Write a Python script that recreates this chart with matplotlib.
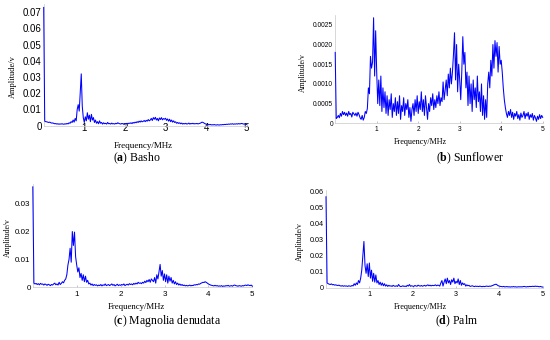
import matplotlib
matplotlib.use("Agg")
import matplotlib.pyplot as plt
import numpy as np

plt.rcParams['mathtext.fontset'] = 'custom'
plt.rcParams['mathtext.rm'] = 'Liberation Serif'
plt.rcParams['mathtext.bf'] = 'Liberation Serif:bold'

# frequency grid, 0..5 MHz in 0.025 MHz steps (201 samples)
freq = np.linspace(0, 5, 201)

# amplitudes, one row = 0.25 MHz
basho = np.array([
    730, 28, 25, 24, 22, 20, 22, 18, 16, 17,
    14, 12, 13, 10, 12, 9, 11, 10, 12, 10,
    9, 12, 10, 14, 11, 18, 15, 25, 20, 35,
    22, 45, 30, 100, 130, 90, 200, 320, 120, 50,
    20, 55, 30, 80, 40, 65, 25, 70, 35, 50,
    20, 35, 15, 25, 12, 30, 15, 20, 10, 18,
    12, 15, 10, 20, 12, 14, 10, 16, 11, 13,
    10, 15, 12, 18, 14, 12, 10, 14, 12, 11,
    13, 10, 15, 12, 16, 14, 18, 13, 20, 16,
    22, 18, 25, 20, 28, 22, 30, 24, 27, 32,
    25, 33, 28, 38, 30, 35, 45, 32, 50, 40,
    52, 35, 45, 30, 48, 38, 50, 36, 44, 40,
    46, 33, 42, 28, 40, 25, 35, 22, 30, 20,
    24, 15, 20, 14, 18, 12, 16, 10, 14, 11,
    15, 10, 12, 16, 10, 14, 12, 15, 11, 13,
    12, 14, 11, 13, 15, 18, 22, 20, 16, 12,
    10, 8, 7, 6, 8, 5, 6, 5, 7, 5,
    4, 6, 5, 4, 6, 5, 7, 6, 8, 7,
    9, 8, 10, 9, 11, 10, 12, 9, 11, 10,
    12, 10, 13, 11, 12, 14, 12, 10, 11, 9,
    8]) * 1e-4

sunflower = np.array([
    180, 12, 15, 20, 14, 25, 18, 30, 22, 28,
    20, 26, 18, 30, 22, 25, 16, 28, 24, 20,
    26, 18, 28, 22, 14, 10, 20, 8, 15, 30,
    25, 38, 90, 75, 170, 140, 155, 268, 120, 235,
    130, 50, 110, 45, 120, 30, 90, 40, 80, 25,
    70, 20, 60, 35, 75, 15, 50, 30, 65, 20,
    55, 25, 70, 10, 45, 30, 65, 20, 50, 35,
    60, 15, 40, 5, 35, 50, 20, 60, 30, 70,
    25, 55, 35, 80, 30, 60, 20, 70, 40, 10,
    50, 30, 65, 45, 75, 35, 60, 40, 70, 50,
    80, 45, 65, 55, 105, 60, 85, 110, 70, 125,
    90, 140, 100, 130, 175, 230, 110, 200, 80, 150,
    110, 60, 130, 220, 150, 180, 90, 130, 45, 120,
    50, 100, 30, 110, 60, 90, 40, 120, 55, 80,
    30, 100, 20, 70, 10, 60, 15, 100, 130, 90,
    160, 120, 200, 140, 210, 170, 205, 130, 195, 150,
    160, 130, 90, 60, 40, 25, 15, 30, 20, 35,
    15, 28, 10, 25, 18, 30, 12, 22, 8, 26,
    15, 20, 30, 12, 25, 18, 28, 10, 22, 15,
    25, 8, 20, 14, 5, 18, 10, 22, 12, 20,
    15]) * 1e-5

magnolia = np.array([
    360, 15, 12, 14, 10, 13, 9, 14, 11, 12,
    8, 12, 10, 7, 11, 9, 6, 10, 8, 12,
    15, 9, 12, 8, 18, 10, 14, 20, 16, 25,
    30, 45, 80, 100, 140, 90, 200, 150, 198, 110,
    80, 55, 70, 35, 50, 25, 45, 20, 40, 18,
    25, 12, 15, 8, 12, 6, 10, 7, 9, 5,
    8, 6, 10, 5, 9, 7, 12, 6, 8, 10,
    6, 9, 12, 7, 10, 5, 8, 11, 6, 9,
    7, 10, 8, 12, 6, 9, 11, 8, 13, 10,
    12, 9, 14, 11, 15, 12, 18, 14, 16, 13,
    18, 15, 22, 17, 25, 20, 28, 18, 30, 25,
    20, 35, 15, 45, 30, 55, 82, 40, 60, 25,
    48, 20, 45, 15, 40, 22, 35, 15, 25, 12,
    20, 10, 15, 8, 12, 7, 10, 6, 8, 5,
    7, 5, 6, 8, 5, 7, 6, 9, 8, 10,
    9, 12, 11, 14, 16, 18, 17, 20, 18, 15,
    12, 10, 8, 7, 6, 5, 7, 5, 6, 4,
    5, 4, 6, 3, 5, 4, 6, 5, 7, 4,
    5, 6, 4, 7, 8, 6, 5, 4, 6, 5,
    4, 6, 5, 7, 8, 6, 9, 7, 6, 8,
    4]) * 1e-4

palm = np.array([
    570, 30, 25, 22, 20, 24, 18, 20, 16, 18,
    15, 14, 16, 12, 10, 13, 9, 12, 10, 11,
    8, 12, 10, 9, 14, 11, 25, 15, 30, 20,
    45, 30, 60, 110, 200, 290, 140, 90, 150, 70,
    155, 60, 110, 40, 90, 35, 80, 30, 45, 20,
    35, 15, 30, 12, 25, 10, 18, 8, 15, 10,
    12, 8, 15, 10, 9, 12, 8, 20, 10, 7,
    9, 12, 8, 10, 7, 15, 10, 20, 9, 12,
    10, 8, 14, 11, 9, 16, 12, 10, 14, 9,
    12, 15, 10, 14, 18, 12, 16, 11, 15, 13,
    14, 18, 12, 16, 15, 10, 30, 45, 10, 35,
    55, 25, 60, 30, 45, 20, 50, 35, 60, 25,
    40, 30, 55, 20, 45, 15, 30, 20, 25, 10,
    18, 12, 15, 8, 10, 12, 9, 7, 10, 8,
    9, 7, 10, 8, 6, 9, 7, 8, 10, 9,
    8, 10, 9, 12, 14, 18, 20, 22, 17, 12,
    10, 8, 7, 6, 8, 5, 6, 7, 5, 6,
    4, 6, 5, 7, 5, 6, 4, 5, 6, 5,
    6, 5, 7, 8, 6, 5, 7, 6, 8, 7,
    8, 9, 7, 10, 8, 9, 7, 6, 8, 5,
    4]) * 1e-4

xticks = [1, 2, 3, 4, 5]
yticks_a = [0, 0.01, 0.02, 0.03, 0.04, 0.05, 0.06, 0.07]
ylabels_a = ['0', '0.01', '0.02', '0.03', '0.04', '0.05', '0.06', '0.07']
yticks_b = [0, 0.0005, 0.0010, 0.0015, 0.0020, 0.0025]
ylabels_b = ['0', '0.0005', '0.0010', '0.0015', '0.0020', '0.0025']
yticks_c = [0, 0.01, 0.02, 0.03]
ylabels_c = ['0', '0.01', '0.02', '0.03']
yticks_d = [0, 0.01, 0.02, 0.03, 0.04, 0.05, 0.06]
ylabels_d = ['0', '0.01', '0.02', '0.03', '0.04', '0.05', '0.06']

W, H = 550, 340
fig = plt.figure(figsize=(5.5, 3.4), dpi=100)


def rect(left, right, top, bottom):
    # pixel box -> figure fraction
    return [left / W, 1 - bottom / H, (right - left) / W, (bottom - top) / H]


def panel(box, y, ymax, yt, yl, tsize, xpad):
    ax = fig.add_axes(rect(*box))
    ax.plot(freq, y, color='#0000ff', lw=0.75, zorder=3, clip_on=False)
    ax.set_xlim(0, 5)
    ax.set_ylim(0, ymax)
    ax.set_xticks(xticks)
    ax.set_xticklabels([str(t) for t in xticks])
    ax.set_yticks(yt)
    ax.set_yticklabels(yl)
    for s in ['top', 'right']:
        ax.spines[s].set_visible(False)
    for s in ['left', 'bottom']:
        ax.spines[s].set_color('#c8c8c8')
        ax.spines[s].set_linewidth(0.5)
    ax.tick_params(axis='x', direction='in', length=1.5, width=0.4, color='#999999',
                   pad=xpad, labelsize=tsize)
    ax.tick_params(axis='y', length=0, pad=1.5, labelsize=tsize)
    for lab in ax.get_xticklabels() + ax.get_yticklabels():
        lab.set_family('Liberation Sans')
    return ax


panel((43.7, 246.7, 4.2, 125.7), basho, 0.075, yticks_a, ylabels_a, 7, -2.3)
panel((335.2, 542.7, 15, 123.3), sunflower, 0.00275, yticks_b, ylabels_b, 4.8, 1.8)
panel((32.8, 252.3, 184.1, 287.3), magnolia, 0.037, yticks_c, ylabels_c, 5.8, 2.5)
panel((326, 542.7, 190.4, 287.7), palm, 0.061, yticks_d, ylabels_d, 5.2, 2.5)

serif = 'Liberation Serif'


def ftext(x, y, s, **kw):
    fig.text(x / W, 1 - y / H, s, ha='center', va='center', family=serif, **kw)


# axis titles
ftext(13, 77, 'Amplitude/v', size=6, rotation=90)
ftext(303, 73, 'Amplitude/v', size=5.5, rotation=90)
ftext(8, 238, 'Amplitude/v', size=5.5, rotation=90)
ftext(300, 242, 'Amplitude/v', size=5.5, rotation=90)
ftext(143, 146, 'Frequency/MHz', size=6.5)
ftext(420, 142, 'Frequency/MHz', size=5.9)
ftext(136, 307, 'Frequency/MHz', size=6.3)
ftext(420, 307, 'Frequency/MHz', size=5.9)

# captions
ftext(137, 158, r'($\mathbf{a}$) Basho', size=8.5)
ftext(470, 158, r'($\mathbf{b}$) Sunflower', size=8.5)
ftext(167, 321, r'($\mathbf{c}$) Magnolia denudata', size=8.5)
ftext(457, 321, r'($\mathbf{d}$) Palm', size=8.5)

fig.savefig('out.png', dpi=100)
